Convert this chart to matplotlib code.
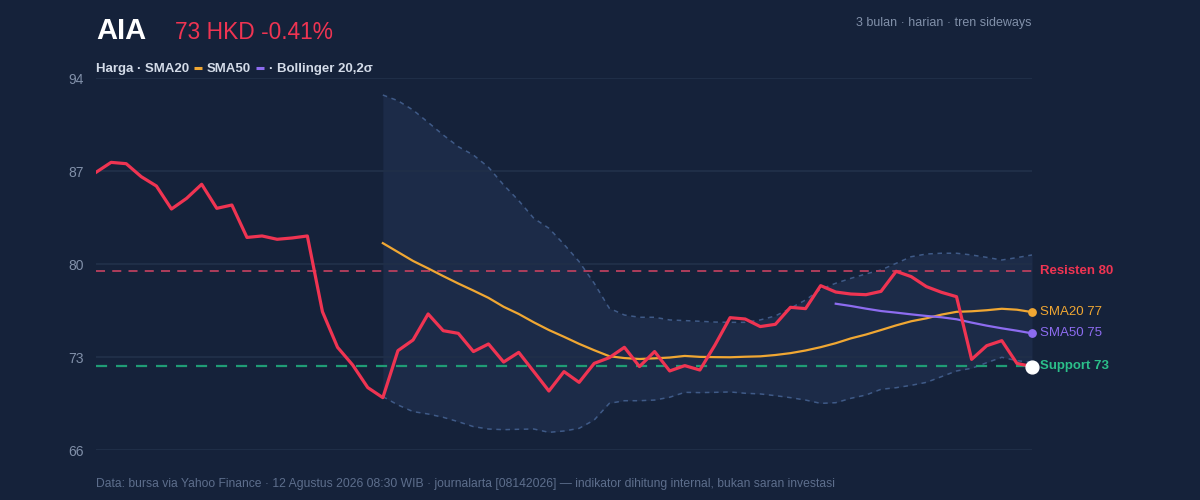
import matplotlib
matplotlib.use("Agg")
import matplotlib.pyplot as plt

plt.rcParams['font.family'] = ['Liberation Sans', 'DejaVu Sans']

# --- data ---
ticker = "AIA"
quote = "73 HKD -0.41%"
subtitle = "3 bulan · harian · tren sideways"
footer = ("Data: bursa via Yahoo Finance · 12 Agustus 2026 08:30 WIB · journalarta [08142026]"
          " — indikator dihitung internal, bukan saran investasi")

price = [86.9, 87.65, 87.55, 86.57, 85.87, 84.14, 84.94, 86.0, 84.19, 84.44,
         82.0, 82.11, 81.86, 81.96, 82.11, 76.41, 73.73, 72.4, 70.7, 69.94,
         73.48, 74.28, 76.24, 74.98, 74.78, 73.41, 73.98, 72.62, 73.35, 71.9,
         70.44, 71.9, 71.09, 72.52, 72.95, 73.73, 72.28, 73.41, 71.95, 72.35,
         72.02, 73.9, 75.96, 75.86, 75.29, 75.46, 76.74, 76.64, 78.37, 77.89,
         77.74, 77.69, 77.94, 79.45, 79.05, 78.3, 77.87, 77.54, 72.82, 73.85,
         74.23, 72.52, 72.28]

# SMA20 and Bollinger bands start on day 19, SMA50 on day 49
sma20 = [81.57, 80.9, 80.23, 79.67, 79.09, 78.53, 78.0, 77.45, 76.78, 76.24,
         75.61, 75.03, 74.52, 73.99, 73.51, 73.06, 72.92, 72.85, 72.9, 72.96,
         73.08, 73.01, 72.99, 72.98, 73.02, 73.05, 73.15, 73.29, 73.49, 73.74,
         74.04, 74.4, 74.69, 75.03, 75.38, 75.69, 75.91, 76.19, 76.4, 76.44,
         76.52, 76.63, 76.56, 76.38]
bb_upper = [92.72, 92.29, 91.59, 90.66, 89.71, 88.83, 88.2, 87.28, 85.95, 84.77,
            83.44, 82.69, 81.48, 80.18, 78.55, 76.67, 76.16, 75.99, 75.99, 75.79,
            75.74, 75.69, 75.63, 75.61, 75.61, 75.79, 76.09, 76.67, 77.29, 78.1,
            78.55, 78.92, 79.25, 79.55, 80.05, 80.55, 80.75, 80.81, 80.81, 80.68,
            80.5, 80.3, 80.48, 80.68]
bb_lower = [70.02, 69.39, 68.89, 68.71, 68.46, 68.13, 67.76, 67.58, 67.53, 67.56,
            67.58, 67.33, 67.43, 67.63, 68.26, 69.51, 69.71, 69.71, 69.76, 69.97,
            70.34, 70.32, 70.34, 70.37, 70.27, 70.22, 70.09, 69.94, 69.76, 69.51,
            69.56, 69.89, 70.14, 70.57, 70.69, 70.87, 71.09, 71.52, 71.95, 72.15,
            72.57, 72.98, 72.72, 72.6]
sma50 = [77.01, 76.84, 76.64, 76.46, 76.34, 76.21, 76.09, 75.99, 75.84, 75.59,
         75.36, 75.16, 74.98, 74.78]

resistance = 79.47
support = 72.32
y_ticks = [66, 73, 80, 87, 94]

legend_items = ["Harga · SMA20", "SMA50", "· Bollinger 20,2σ"]
label_resist = "Resisten 80"
label_support = "Support 73"
label_sma20 = "SMA20 77"
label_sma50 = "SMA50 75"

# --- colours ---
BG = '#15223a'
BAND = '#1c2b48'
BAND_LINE = '#3f5a87'
GRID = '#202f48'
TICK = '#8190a9'
RED = '#ef3452'
ORANGE = '#f0a733'
PURPLE = '#8d6cf0'
GREEN = '#2bbf8a'

days = list(range(len(price)))
d20 = days[19:]
d50 = days[49:]
last = days[-1]

fig = plt.figure(figsize=(12, 5), dpi=100, facecolor=BG)
ax = fig.add_axes([0.08, 0.10, 0.78, 0.744])
ax.set_facecolor(BG)

ax.fill_between(d20, bb_lower, bb_upper, color=BAND, lw=0, zorder=1)
for t in y_ticks:
    ax.axhline(t, color=GRID, lw=1.4, zorder=1.5)
ax.plot(d20, bb_upper, color=BAND_LINE, lw=1.1, ls=(0, (3, 3)), zorder=2)
ax.plot(d20, bb_lower, color=BAND_LINE, lw=1.1, ls=(0, (3, 3)), zorder=2)

ax.axhline(resistance, color='#b93f5e', lw=1.3, ls=(0, (5, 4)), zorder=2)
ax.axhline(support, color='#1f9c75', lw=1.6, ls=(0, (5, 4)), zorder=2)

ax.plot(d20, sma20, color=ORANGE, lw=1.6, zorder=3)
ax.plot(d50, sma50, color=PURPLE, lw=1.6, zorder=3)
ax.plot(days, price, color=RED, lw=2.3, zorder=4)

ax.scatter([last], [sma20[-1]], s=28, color=ORANGE, zorder=5, clip_on=False)
ax.scatter([last], [sma50[-1]], s=28, color=PURPLE, zorder=5, clip_on=False)
ax.scatter([last], [price[-1]], s=85, color='white', zorder=6, clip_on=False)

def side_label(y, text, color, bold):
    ax.annotate(text, xy=(last, y), xytext=(6, 0), textcoords='offset points',
                va='center', ha='left', color=color, fontsize=9.5,
                fontweight='bold' if bold else 'normal', annotation_clip=False)

side_label(resistance, label_resist, RED, True)
side_label(sma20[-1], label_sma20, ORANGE, False)
side_label(sma50[-1], label_sma50, PURPLE, False)
side_label(support, label_support, GREEN, True)

ax.set_xlim(0, last)
ax.set_ylim(66, 94)
ax.set_xticks([])
ax.set_yticks(y_ticks)
ax.set_yticklabels([str(t) for t in y_ticks])
ax.tick_params(axis='y', length=0, pad=9, labelcolor=TICK, labelsize=10)
for s in ax.spines.values():
    s.set_visible(False)

# --- header ---
fig.text(96 / 1200, 461 / 500, ticker, color='white', fontsize=21, fontweight='bold',
         va='baseline', ha='left')
fig.text(175 / 1200, 461 / 500, quote, color=RED, fontsize=16.4, va='baseline', ha='left')
fig.text(1032 / 1200, 474 / 500, subtitle, color=TICK, fontsize=9,
         va='baseline', ha='right')

# legend row: text pieces with small coloured dashes between them
renderer = fig.canvas.get_renderer()
x = 96.0
base = 428.0
dash_colors = [ORANGE, PURPLE, None]
for item, dc in zip(legend_items, dash_colors):
    t = fig.text(x / 1200, base / 500, item, color='#d3dbe8', fontsize=9.5,
                 fontweight='bold', va='baseline', ha='left')
    x = t.get_window_extent(renderer).x1 + 5
    if dc:
        fig.add_artist(plt.Line2D([x / 1200, (x + 8) / 1200], [(base + 4) / 500] * 2,
                                  color=dc, lw=2.2, solid_capstyle='butt',
                                  transform=fig.transFigure))
        x += 13

fig.text(96 / 1200, 13 / 500, footer, color='#5d6e8c', fontsize=8.7, va='baseline', ha='left')

fig.savefig('out.png', dpi=100, facecolor=BG)
